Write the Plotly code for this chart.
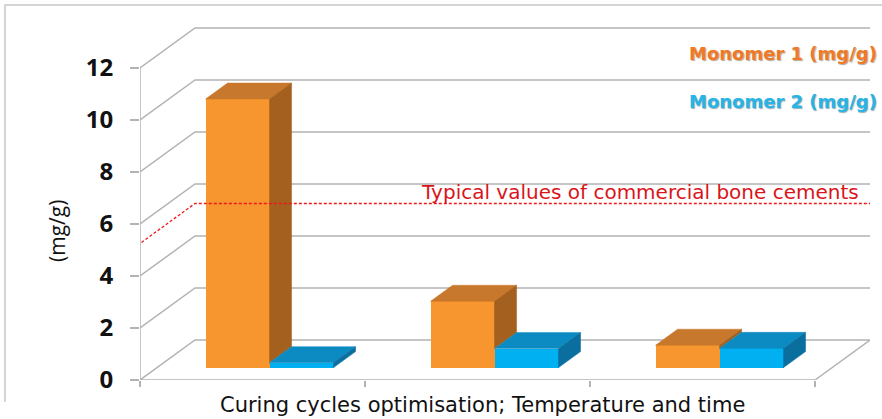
import plotly.graph_objects as go

# ---------------- data ----------------
categories = ["Cycle 1", "Cycle 2", "Cycle 3"]
monomer1 = [10.33, 2.55, 0.86]
monomer2 = [0.19, 0.73, 0.74]
y_ticks = [0, 2, 4, 6, 8, 10, 12]
typical_value = 5.25
series_names = ["Monomer 1 (mg/g)", "Monomer 2 (mg/g)"]
x_title = "Curing cycles optimisation; Temperature and time"
y_title = "(mg/g)"
ref_label = "Typical values of commercial bone cements"

# ---------------- geometry / style ----------------
W, H = 882, 419
L, R, T, B = 140, 870, 20, 380          # plot area in pixels
PX_PER_X = 225.0                         # pixels per category
PX_PER_Y = 26.0                          # pixels per unit
x_lo = -0.5
x_hi = x_lo + (R - L) / PX_PER_X
y_hi = (B - T) / PX_PER_Y

DX = 55 / PX_PER_X      # wall depth in x units
DY = 40 / PX_PER_Y      # wall depth in y units
FRONT = 0.31            # bar front position as fraction of depth
DEPTH = 0.40            # bar depth as fraction of depth
BW = 64 / PX_PER_X      # bar width

GRID = "#B3B3B3"
O_FRONT, O_TOP, O_SIDE = "#F7962F", "#C8782C", "#A3601E"
B_FRONT, B_TOP, B_SIDE = "#00B0F0", "#0C8BC2", "#0A6F9E"


def pxx(xp):
    return (xp - L) / (R - L)


def pxy(yp):
    return (B - yp) / (B - T)


fig = go.Figure()
shapes = []

# walls: left wall diagonals + back wall gridlines
n = len(categories)
x_end = x_lo + n
for v in y_ticks:
    shapes.append(dict(type="path", layer="below",
                       path=f"M {x_lo} {v} L {x_lo + DX} {v + DY} L {x_end + DX} {v + DY}",
                       line=dict(color=GRID, width=1.5)))
# floor front edge and right edge
shapes.append(dict(type="path", layer="below",
                   path=f"M {x_lo} 0 L {x_end} 0 L {x_end + DX} {DY}",
                   line=dict(color=GRID, width=1.5)))
# front vertical axis
shapes.append(dict(type="line", layer="below", x0=x_lo, x1=x_lo, y0=0, y1=max(y_ticks),
                   line=dict(color=GRID, width=1.5)))
# chart border (left + top)
shapes.append(dict(type="path", xref="paper", yref="paper", layer="below",
                   path=f"M {pxx(5)} {pxy(402)} L {pxx(5)} {pxy(5)} L {pxx(882)} {pxy(5)}",
                   line=dict(color="#C8C8C8", width=1.5)))

sx, sy = FRONT * DX, FRONT * DY
bdx, bdy = DEPTH * DX, DEPTH * DY
xs = list(range(n))

# front faces as bars
fig.add_trace(go.Bar(x=xs, y=monomer1, base=sy, width=BW, offset=sx - BW,
                     marker=dict(color=O_FRONT, line=dict(width=0)),
                     name=series_names[0], hoverinfo="y"))
fig.add_trace(go.Bar(x=xs, y=monomer2, base=sy, width=BW, offset=sx,
                     marker=dict(color=B_FRONT, line=dict(width=0)),
                     name=series_names[1], hoverinfo="y"))


def poly(xp, yp, color):
    fig.add_trace(go.Scatter(x=xp + [xp[0]], y=yp + [yp[0]], mode="lines", fill="toself",
                             fillcolor=color, line=dict(color=color, width=0.5),
                             hoverinfo="skip", showlegend=False))


for i in xs:
    v1, v2 = monomer1[i], monomer2[i]
    xm = i + sx            # boundary between orange and blue
    x0 = xm - BW
    x2 = xm + BW
    b = sy
    # orange top
    poly([x0, xm, xm + bdx, x0 + bdx], [b + v1, b + v1, b + v1 + bdy, b + v1 + bdy], O_TOP)
    # orange visible side (above the blue top)
    lo = min(v1, v2)
    poly([xm, xm, xm + bdx, xm + bdx], [b + lo, b + v1, b + v1 + bdy, b + lo + bdy], O_SIDE)
    # blue top
    poly([xm, x2, x2 + bdx, xm + bdx], [b + v2, b + v2, b + v2 + bdy, b + v2 + bdy], B_TOP)
    # blue side
    poly([x2, x2, x2 + bdx, x2 + bdx], [b, b + v2, b + v2 + bdy, b + bdy], B_SIDE)

# typical value reference line (left wall + back wall)
ext = 0.12
fig.add_trace(go.Scatter(
    x=[x_lo - ext * DX, x_lo + DX, x_end + DX + 0.02],
    y=[typical_value - ext * DY, typical_value + DY, typical_value + DY],
    mode="lines", line=dict(color="#F01818", width=1.3, dash="3px,2px"),
    hoverinfo="skip", showlegend=False))

annotations = [
    dict(text=ref_label, x=pxx(861), y=pxy(192), xref="paper", yref="paper",
         xanchor="right", yanchor="middle", showarrow=False,
         font=dict(family="DejaVu Sans", size=20, color="#D9151B")),
    dict(text=series_names[0], x=pxx(879), y=pxy(53), xref="paper", yref="paper",
         xanchor="right", yanchor="middle", showarrow=False,
         font=dict(family="DejaVu Sans", size=18, color="#EE7A28", weight="bold",
                   shadow="1px 1px 1px rgba(90,60,30,0.45)")),
    dict(text=series_names[1], x=pxx(879), y=pxy(102), xref="paper", yref="paper",
         xanchor="right", yanchor="middle", showarrow=False,
         font=dict(family="DejaVu Sans", size=18, color="#27B4E6", weight="bold",
                   shadow="1px 1px 1px rgba(20,70,100,0.45)")),
    dict(text=x_title, x=pxx(482), y=pxy(405), xref="paper", yref="paper",
         xanchor="center", yanchor="middle", showarrow=False,
         font=dict(family="DejaVu Sans", size=21, color="#111111")),
    dict(text=y_title, x=pxx(57), y=pxy(231), xref="paper", yref="paper",
         xanchor="center", yanchor="middle", showarrow=False, textangle=-90,
         font=dict(family="Open Sans", size=21, color="#111111")),
]

fig.update_layout(
    width=W, height=H,
    margin=dict(l=L, r=W - R, t=T, b=H - B, pad=0),
    paper_bgcolor="white", plot_bgcolor="white",
    barmode="overlay", bargap=0,
    showlegend=False,
    shapes=shapes, annotations=annotations,
    xaxis=dict(range=[x_lo, x_hi], tickvals=[x_lo + k for k in range(n + 1)],
               showticklabels=False, ticks="outside", ticklen=6, tickcolor=GRID, tickwidth=1.5,
               showgrid=False, zeroline=False, showline=False, fixedrange=True),
    yaxis=dict(range=[0, y_hi], tickvals=y_ticks, ticks="outside", ticklen=9,
               tickcolor=GRID, tickwidth=1.5, ticklabelstandoff=12,
               tickfont=dict(family="Open Sans", size=24, color="#111111", weight="bold"),
               showgrid=False, zeroline=False, showline=False, fixedrange=True),
)

fig.write_html("out.html", config={"displayModeBar": False},
               post_script="document.body.style.margin='0px';document.body.style.overflow='hidden';")
